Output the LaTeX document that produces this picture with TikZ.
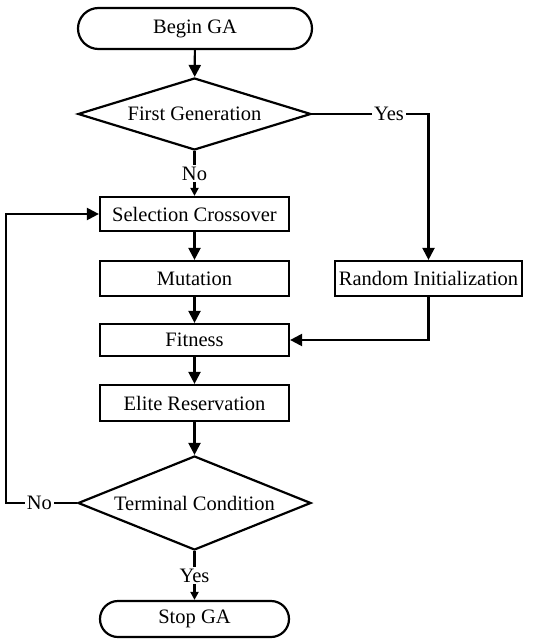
\documentclass[tikz,border=0pt]{standalone}
\usepackage{fontspec}
\setmainfont{Liberation Serif}
\usetikzlibrary{shapes.geometric,shapes.misc,arrows.meta}

\begin{document}
\begin{tikzpicture}[x=1pt,y=-1pt,font=\fontsize{20.5}{24}\selectfont]
\useasboundingbox (0,0) rectangle (541,639);
\begin{scope}[every node/.style={draw,line width=2.2pt,inner sep=0pt,minimum width=189pt,minimum height=35pt}]
    \node (BG)[rounded rectangle,minimum width=234pt,minimum height=41pt] at (195,28.5) {Begin GA};
    \node (FG)[diamond,shape aspect=3.24,minimum width=233pt,minimum height=72pt] at (194.5,114) {First Generation};
    \node (SC)[minimum height=34pt] at (194.5,214) {Selection Crossover};
    \node (MU) at (194.5,278.5) {Mutation};
    \node (RI)[minimum width=187pt] at (428.5,278.5) {Random Initialization};
    \node (FI)[minimum height=32pt] at (194.5,340) {Fitness};
    \node (ER)[minimum height=36pt] at (194.5,403) {Elite Reservation};
    \node (TC)[diamond,shape aspect=2.48,minimum width=233pt,minimum height=94pt] at (194.5,503) {Terminal Condition};
    \node (SG)[rounded rectangle,minimum height=36pt] at (194.5,619) {Stop GA};
\end{scope}
\coordinate (L) at (6,503);

\begin{scope}[
              every node/.style={fill=white,inner sep=2pt},
              every edge/.style={draw=black,line width=2.2pt,-{Triangle[length=12pt,width=12pt]}}]
    \path  (BG) edge (FG);
    \path  (FG) edge[-{Triangle[length=8pt,width=8pt]}] node {No} (SC);
    \path  (SC) edge (MU);
    \path  (MU) edge (FI);
    \path  (FI) edge (ER);
    \path  (ER) edge (TC);
    \path  (TC) edge[-{Triangle[length=8pt,width=8pt]}] node {Yes} (SG);
    \draw[line width=2.2pt,-{Triangle[length=12pt,width=12pt]}] (FG) -| node[pos=0.33] {Yes} (RI);
    \draw[line width=2.2pt,-{Triangle[length=12pt,width=12pt]}] (RI) |- (FI);
    \draw[line width=2.2pt,-{Triangle[length=12pt,width=12pt]}] (TC) -- node[pos=0.53] {No} (L) |- (SC);
\end{scope}
\end{tikzpicture}
\end{document}
